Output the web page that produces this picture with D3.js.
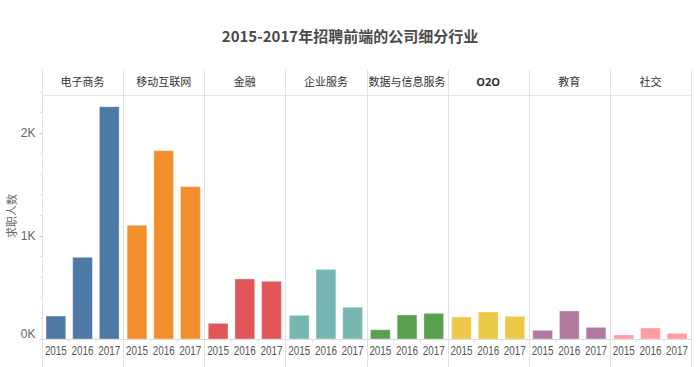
<!DOCTYPE html>
<html><head><meta charset="utf-8">
<script src="https://cdn.jsdelivr.net/npm/d3@7"></script>
<style>
body{margin:0;background:#fff;}
svg{display:block;}
</style></head>
<body>
<svg id="chart" width="700" height="367"></svg>
<script>
const title = "2015-2017年招聘前端的公司细分行业";
const yLabel = "求职人数";
const industries = ["电子商务","移动互联网","金融","企业服务","数据与信息服务","O2O","教育","社交"];
const years = ["2015","2016","2017"];
const v2015 = [223, 1104, 152, 230, 90, 214, 84, 39];
const v2016 = [793, 1828, 583, 676, 233, 262, 272, 107];
const v2017 = [2255, 1479, 560, 308, 249, 220, 113, 55];
const colors = ["#4e79a7","#f28e2b","#e15759","#76b7b2","#59a14f","#edc948","#b07aa1","#ff9da7"];
const yTicks = [0, 1000, 2000];
const yTickLabels = ["0K","1K","2K"];

const svg = d3.select("#chart");
const left = 42, right = 691, headerTop = 70, headerBottom = 95, base = 339, bottom = 367;
const cjk = "'Noto Sans CJK SC','Noto Sans',sans-serif";
const latin = "'Liberation Sans',Arial,sans-serif";

const x0 = d3.scaleBand().domain(industries).range([left, right]).padding(0);
const x1 = d3.scaleBand().domain(years).range([0, x0.bandwidth()]).paddingInner(0.26).paddingOuter(0.15);
const y = d3.scaleLinear().domain([0, 2000]).range([base, base - 206]);

// title
svg.append("text").attr("x", 350).attr("y", 42).attr("text-anchor","middle")
  .style("font-family", cjk).style("font-size","15px").style("font-weight","bold").style("fill","#4a4a4a")
  .text(title);

// header line
svg.append("line").attr("x1", left).attr("x2", right).attr("y1", headerBottom+0.5).attr("y2", headerBottom+0.5)
  .attr("stroke","#e6e6e6");
// baseline
svg.append("line").attr("x1", left).attr("x2", right).attr("y1", base+0.5).attr("y2", base+0.5)
  .attr("stroke","#d9d9d9");

// vertical separators
const seps = industries.map(d => x0(d)).concat([right]);
svg.selectAll("line.sep").data(seps).join("line").attr("class","sep")
  .attr("x1", d => Math.round(d)+0.5).attr("x2", d => Math.round(d)+0.5)
  .attr("y1", headerTop).attr("y2", bottom).attr("stroke","#e3e3e3");

// headers
svg.selectAll("text.hdr").data(industries).join("text").attr("class","hdr")
  .attr("x", d => x0(d) + x0.bandwidth()/2).attr("y", 86).attr("text-anchor","middle")
  .style("font-family", d => d === "O2O" ? "'Open Sans',sans-serif" : cjk)
  .style("font-size","11px").style("font-weight", d => d === "O2O" ? "bold" : "normal")
  .style("fill","#333").text(d => d);

// bars
const data = [];
industries.forEach((ind, i) => {
  [v2015, v2016, v2017].forEach((arr, j) => data.push({ind, year: years[j], value: arr[i], color: colors[i]}));
});
svg.selectAll("rect.bar").data(data).join("rect").attr("class","bar")
  .attr("x", d => x0(d.ind) + x1(d.year)).attr("width", x1.bandwidth())
  .attr("y", d => y(d.value)).attr("height", d => base - y(d.value))
  .attr("fill", d => d.color).attr("stroke","#ffffff").attr("stroke-opacity",0.35).attr("stroke-width",1);

// year labels
svg.selectAll("text.yr").data(data).join("text").attr("class","yr")
  .attr("x", d => x0(d.ind) + x1(d.year) + x1.bandwidth()/2).attr("y", 355).attr("text-anchor","middle")
  .attr("textLength", 22).attr("lengthAdjust","spacingAndGlyphs")
  .style("font-family", latin).style("font-size","12px").style("fill","#555").text(d => d.year);

// small x ticks at band boundaries
const xt = [];
industries.forEach(ind => { for (let k = 1; k < 3; k++) xt.push(x0(ind) + x0.bandwidth()*k/3); });
svg.selectAll("line.xt").data(xt).join("line").attr("class","xt")
  .attr("x1", d => d).attr("x2", d => d).attr("y1", base).attr("y2", base+4).attr("stroke","#e3e3e3");

// y axis
const yAxis = d3.axisLeft(y).tickValues(yTicks).tickFormat((d,i) => yTickLabels[i]).tickSize(3).tickPadding(4);
const ga = svg.append("g").attr("transform", `translate(${left+0.5},0)`).call(yAxis);
ga.select(".domain").remove();
ga.selectAll(".tick line").attr("stroke","#ccc");
ga.selectAll(".tick text").style("font-family", latin).style("font-size","12px").style("fill","#666")
  .attr("dy", d => d === 0 ? "-0.15em" : "0.32em");
// minor ticks
const minor = d3.range(0, 2401, 200).filter(d => d % 1000 !== 0);
svg.selectAll("line.minor").data(minor).join("line").attr("class","minor")
  .attr("x1", left-2).attr("x2", left).attr("y1", d => y(d)).attr("y2", d => y(d)).attr("stroke","#e0e0e0");

// y label
svg.append("text").attr("transform", `translate(16,216) rotate(-90)`)
  .attr("text-anchor","middle").style("font-family", cjk).style("font-size","11px").style("fill","#666")
  .text(yLabel);
</script>
</body></html>
